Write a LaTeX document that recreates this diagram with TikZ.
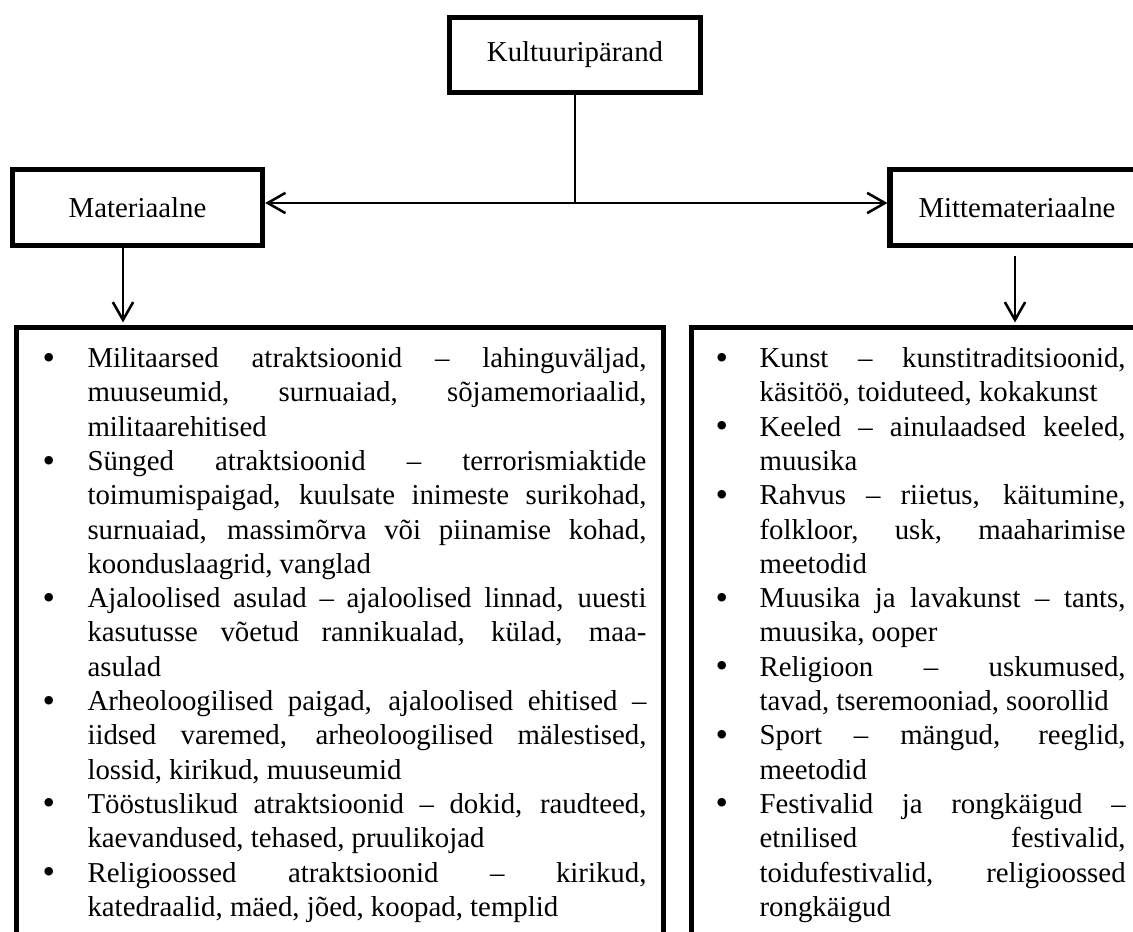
\documentclass[tikz,border=0pt]{standalone}
\usepackage{fontspec}
\setmainfont{Liberation Serif}
\usepackage{enumitem}
\usetikzlibrary{arrows.meta, positioning}
\tikzset{
  % Heading boxes
  catbox/.style={
    rectangle, draw=black, line width=2pt,
    minimum width=98.5pt, minimum height=29.8pt,
    inner sep=0pt, font=\fontsize{11.35}{13.5}\selectfont
  },
  % List boxes
  listbox/.style={
    rectangle, draw=black, line width=2pt,
    anchor=north west, inner xsep=0pt, inner ysep=2.3pt,
    align=justify, font=\fontsize{11.35}{13.5}\selectfont
  },
  % Connectors
  line/.style={line width=1pt, black},
  arr/.style={line, -{Straight Barb[length=7pt,width=8pt]}},
  darr/.style={line, {Straight Barb[length=7pt,width=8pt]}-{Straight Barb[length=7pt,width=8pt]}},
}
\newcommand{\listdot}{\raisebox{-0.6pt}{\fontsize{14}{14}\selectfont\textbullet}}
\setlist[itemize]{nosep, label=\listdot, align=left, labelsep=0pt}

\begin{document}
\begin{tikzpicture}[x=0.3937pt, y=-0.3937pt]
  \tolerance=9999 \hbadness=10000 \hyphenpenalty=10000
  \path[use as bounding box, clip] (0,0) rectangle (1133,932);

  \node[catbox] (kult)   at (575,55)     {Kultuuripärand};
  \node[catbox] (mat)    at (137.5,207.5) {Materiaalne};
  \node[catbox, minimum width=100pt] (nonmat) at (1017,207.5) {Mittemateriaalne};

  \node[listbox, text width=254.7pt] (matlist) at (14,325) {%
    \begin{itemize}[leftmargin=27.95pt, labelwidth=17.7pt, rightmargin=6.7pt]
    \item Militaarsed atraktsioonid – lahinguväljad,\linebreak
      muuseumid, surnuaiad, sõjamemoriaalid,\linebreak
      militaarehitised
    \item Sünged atraktsioonid – terrorismiaktide\linebreak
      toimumispaigad, kuulsate inimeste surikohad,\linebreak
      surnuaiad, massimõrva või piinamise kohad,\linebreak
      koonduslaagrid, vanglad
    \item Ajaloolised asulad – ajaloolised linnad, uuesti\linebreak
      kasutusse võetud rannikualad, külad, maa-\linebreak
      asulad
    \item Arheoloogilised paigad, ajaloolised ehitised –\linebreak
      iidsed varemed, arheoloogilised mälestised,\linebreak
      lossid, kirikud, muuseumid
    \item Tööstuslikud atraktsioonid – dokid, raudteed,\linebreak
      kaevandused, tehased, pruulikojad
    \item Religioossed atraktsioonid – kirikud,\linebreak
      katedraalid, mäed, jõed, koopad, templid
    \end{itemize}
    \par\noindent\rule{0pt}{8pt}};

  \node[listbox, text width=177.6pt] (nonmatlist) at (689,325) {%
    \begin{itemize}[leftmargin=26.8pt, labelwidth=17.3pt, rightmargin=6.7pt]
    \item Kunst – kunstitraditsioonid,\linebreak
      käsitöö, toiduteed, kokakunst
    \item Keeled – ainulaadsed keeled,\linebreak
      muusika
    \item Rahvus – riietus, käitumine,\linebreak
      folkloor, usk, maaharimise\linebreak
      meetodid
    \item Muusika ja lavakunst – tants,\linebreak
      muusika, ooper
    \item Religioon – uskumused,\linebreak
      tavad, tseremooniad, soorollid
    \item Sport – mängud, reeglid,\linebreak
      meetodid
    \item Festivalid ja rongkäigud –\linebreak
      etnilised festivalid,\linebreak
      toidufestivalid, religioossed\linebreak
      rongkäigud
    \end{itemize}
    \par\noindent\rule{0pt}{8pt}};

  %% Arrows
  \coordinate (hub) at (575,203);
  \coordinate (matdrop) at (123,0);
  \coordinate (nondrop) at (1015,0);
  \draw[line] (kult) -- (hub);
  \draw[darr] (mat.east |- hub) -- (nonmat.west |- hub);
  \draw[arr, shorten >=1pt] (matdrop |- mat.south) -- (matdrop |- matlist.north);
  \draw[arr, shorten <=3pt, shorten >=1pt] (nondrop |- nonmat.south) -- (nondrop |- nonmatlist.north);

\end{tikzpicture}
\end{document}
